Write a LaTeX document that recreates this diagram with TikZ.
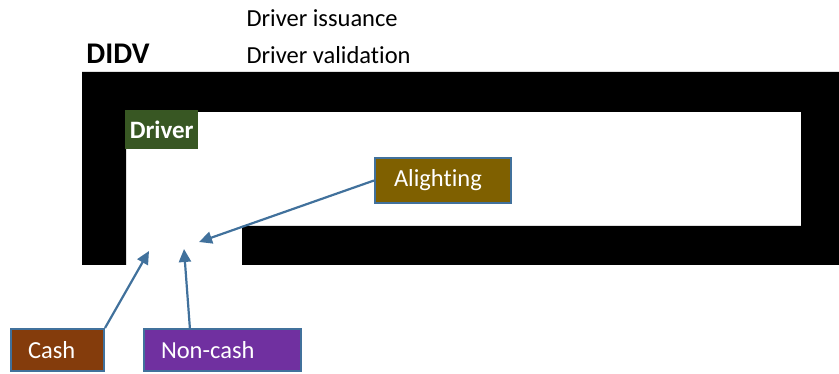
\documentclass[tikz,border=0pt]{standalone}
\usepackage{fontspec}
\setmainfont{Carlito}[Ligatures=NoCommon]
\usepackage{tikz}
\usetikzlibrary{arrows.meta}
\definecolor{linkblue}{RGB}{65, 113, 156}
\definecolor{drvgreen}{RGB}{56, 87, 35}
\definecolor{alightbrown}{RGB}{127, 96, 0}
\definecolor{cashbrown}{RGB}{132, 60, 12}
\definecolor{noncashpurple}{RGB}{112, 48, 160}

\begin{document}
\begin{tikzpicture}[x=1pt, y=-1pt,
    tag/.style={draw=linkblue, line width=2pt, text=white, anchor=north west,
      inner ysep=0pt, inner xsep=17pt, align=left,
      font=\fontsize{24.5}{28}\selectfont},
    link/.style={-{Triangle[length=13pt, width=12pt]}, linkblue, line width=2.2pt}]
        \useasboundingbox (0,0) rectangle (839,374);
        % black frame
        \fill[black] (82,72) -- (839,72) -- (839,265) -- (242,265) -- (242,226)
          -- (801,226) -- (801,112) -- (126,112) -- (126,265) -- (82,265) -- cycle;
        \node[font=\bfseries\fontsize{30}{34}\selectfont] (didv) at (118,54) {DIDV};
        \node[anchor=west, font=\fontsize{24.5}{28}\selectfont] (issue) at (243,18) {Driver issuance};
        \node[anchor=west, font=\fontsize{24.5}{28}\selectfont] (valid) at (243,55) {Driver validation};
        \node[fill=drvgreen, text=white, anchor=north west, inner sep=0pt,
          minimum width=73pt, minimum height=39pt,
          font=\bfseries\fontsize{25}{28}\selectfont] (driver) at (125,110) {Driver};
        \node[tag, fill=alightbrown, inner xsep=19pt, text width=98pt, minimum height=45pt] (alight) at (374,157) {Alighting};
        \node[tag, fill=cashbrown, text width=59pt, minimum height=42pt] (cash) at (10,328) {Cash};
        \node[tag, fill=noncashpurple, text width=123pt, minimum height=42pt] (noncash) at (143,328) {Non-cash};
        \coordinate (tipA) at (199,242);
        \coordinate (tipC) at (149,251);
        \coordinate (tipN) at (184,249);
        \draw[link] (alight.west) -- (tipA);
        \draw[link] (cash.north east) -- (tipC);
        \draw[link] (noncash.146) -- (tipN);
      \end{tikzpicture}
\end{document}
